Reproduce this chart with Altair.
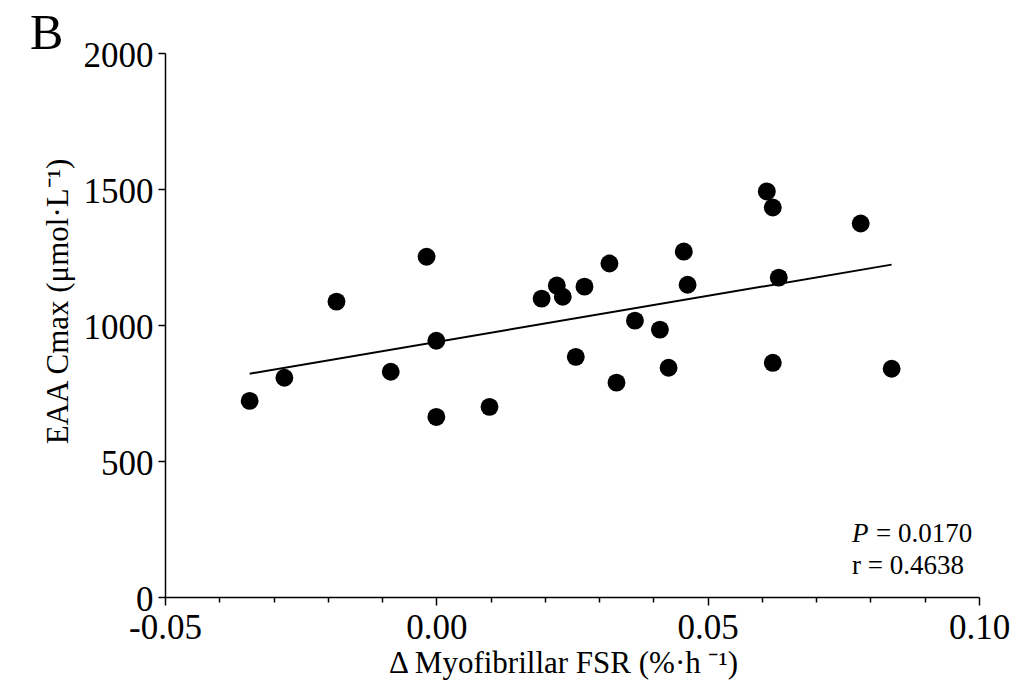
import altair as alt
import pandas as pd

# Data
fsr = [-0.0344, -0.0280, -0.0184, -0.0084, -0.0018, 0.0000, 0.0000, 0.0098,
       0.0194, 0.0222, 0.0233, 0.0257, 0.0273, 0.0319, 0.0332, 0.0366,
       0.0412, 0.0428, 0.0456, 0.0463, 0.0609, 0.0620, 0.0620, 0.0631,
       0.0782, 0.0839]
eaa = [721, 806, 1086, 828, 1251, 942, 662, 699,
       1097, 1145, 1104, 883, 1141, 1226, 788, 1016,
       983, 843, 1270, 1148, 1491, 1432, 861, 1174,
       1373, 839]

fit_x = [-0.0344, 0.0839]
fit_y = [821, 1222]

x_ticks = [-0.05, -0.04, -0.03, -0.02, -0.01, 0.0, 0.01, 0.02, 0.03, 0.04,
           0.05, 0.06, 0.07, 0.08, 0.09, 0.10]
y_ticks = [0, 500, 1000, 1500, 2000]

x_title = "Δ Myofibrillar FSR (%·h ⁻¹)"
y_title = "EAA Cmax (μmol·L⁻¹)"
p_label = "P"
p_value = "= 0.0170"
r_text = "r = 0.4638"
panel_label = "B"

FONT = "Liberation Serif"
W, H = 814, 544

pts = pd.DataFrame({"fsr": fsr, "eaa": eaa})
fit = pd.DataFrame({"fsr": fit_x, "eaa": fit_y})

major_test = "abs(datum.value*20 - round(datum.value*20)) < 0.001"

x_enc = alt.X(
    "fsr:Q",
    title=x_title,
    scale=alt.Scale(domain=[-0.05, 0.10], nice=False, zero=False),
    axis=alt.Axis(
        values=x_ticks,
        tickSize={"condition": {"test": major_test, "value": 8}, "value": 5},
        labelExpr=major_test + " ? (datum.value < 0 ? '-' + format(-datum.value, '.2f') : format(datum.value, '.2f')) : ''",
        labelFontSize=35,
        labelPadding=5,
        labelOverlap=False,
        labelFlush=False,
        titleFontSize=31,
        titleX=398,
        titleY=75,
        titleBaseline="alphabetic",
        titleAnchor="middle",
        titleAlign="center",
    ),
)
y_enc = alt.Y(
    "eaa:Q",
    title=y_title,
    scale=alt.Scale(domain=[0, 2000], nice=False),
    axis=alt.Axis(
        values=y_ticks,
        format="d",
        tickSize=7,
        labelFontSize=35,
        labelPadding=5,
        labelOffset=2,
        titleFontSize=31,
        titleX=-98,
        titleY=248,
        titleAngle=270,
        titleBaseline="alphabetic",
        titleAlign="center",
    ),
)

line = alt.Chart(fit).mark_line(color="black", strokeWidth=2).encode(x=x_enc, y=y_enc)
dots = alt.Chart(pts).mark_circle(size=320, color="black", opacity=1).encode(x=x_enc, y=y_enc)

ann = pd.DataFrame({"p": [p_label], "pv": [p_value], "r": [r_text], "b": [panel_label]})
t_p = alt.Chart(ann).mark_text(font=FONT, fontSize=27, fontStyle="italic", align="left",
                               baseline="alphabetic", color="black").encode(
    text="p:N", x=alt.value(687), y=alt.value(489))
t_pv = alt.Chart(ann).mark_text(font=FONT, fontSize=27, align="left",
                                baseline="alphabetic", color="black").encode(
    text="pv:N", x=alt.value(711), y=alt.value(489))
t_r = alt.Chart(ann).mark_text(font=FONT, fontSize=27, align="left",
                               baseline="alphabetic", color="black").encode(
    text="r:N", x=alt.value(687), y=alt.value(521))
t_b = alt.Chart(ann).mark_text(font=FONT, fontSize=50, align="left",
                               baseline="alphabetic", color="black").encode(
    text="b:N", x=alt.value(-135), y=alt.value(-4))

chart = alt.layer(line, dots, t_p, t_pv, t_r, t_b).properties(
    width=W, height=H,
    autosize=alt.AutoSizeParams(type="none"),
    padding={"left": 157, "top": 45, "right": 40, "bottom": 90},
    background="white",
).configure_view(stroke=None).configure_axis(
    grid=False,
    domainColor="black",
    domainWidth=1.5,
    tickColor="black",
    tickWidth=1.5,
    labelColor="black",
    titleColor="black",
    labelFont=FONT,
    titleFont=FONT,
    titleFontWeight="normal",
)

chart.save("out.html", embed_options={"renderer": "svg", "actions": False})
